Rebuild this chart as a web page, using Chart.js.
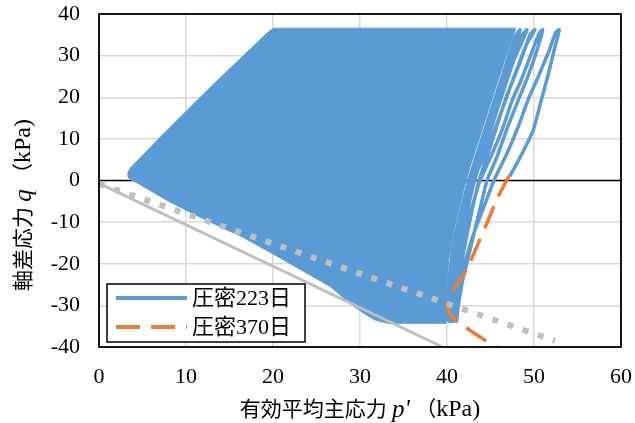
<!DOCTYPE html>
<html>
<head>
<meta charset="utf-8">
<script src="https://cdn.jsdelivr.net/npm/chart.js@4.4.1/dist/chart.umd.min.js"></script>
<style>
  html, body { margin: 0; padding: 0; background: #fff; }
</style>
</head>
<body>
<canvas id="chart" width="635" height="423"></canvas>
<script>
// axis ticks
const xTicks = [0, 10, 20, 30, 40, 50, 60];
const yTicks = [-40, -30, -20, -10, 0, 10, 20, 30, 40];

const seriesNames = ['圧密223日', '圧密370日'];

// 圧密223日 : last few cycles that stand apart on the right side
const blueP = [
  47.2, 48.0, 49.0, 49.9, 50.8, 51.7, 52.4, 52.9,
  52.5, 51.7, 50.5, 49.3, 48.2, 47.0, 45.4, 44.3, 43.2, 42.3, 41.6, 41.2, 41.1,
  41.3, 41.8, 42.5, 43.3, 44.0, 44.6, 45.8, 47.0, 48.2, 49.3, 50.3, 51.0,
  50.6, 49.6, 48.5, 47.5, 46.3, 45.1, 43.8, 42.8, 41.9, 41.2, 40.9, 40.8,
  41.0, 41.5, 42.2, 43.0, 43.7, 44.8, 46.7, 47.9, 49.1, 50.1,
  49.6, 48.5, 47.2, 45.9, 44.3, 43.0, 42.1, 41.3, 40.7, 40.5,
  40.7, 41.3, 42.0, 42.8, 43.6, 45.0, 46.4, 47.8, 49.2,
  48.6, 47.4, 46.0, 44.7, 43.3, 42.3, 41.4, 40.7, 40.3, 40.3,
  40.5, 41.1, 41.9, 42.8, 44.2, 45.6, 47.0, 48.4,
  47.8, 46.5, 45.1, 43.7, 42.5, 41.5, 40.7, 40.2, 40.1
];
const blueQ = [
  1.0, 4, 8, 12, 19, 26, 32, 36.2,
  35.6, 31, 25, 19.3, 13, 7, 0, -6, -12, -18, -24, -29, -33.8,
  -30, -24, -18, -11, -5, 0, 6, 13, 19.3, 25, 31, 36.2,
  35.4, 30, 24, 19.3, 12, 6, 0, -7, -14, -21, -27, -33.8,
  -29, -22, -14, -6, 0, 7, 19.3, 26, 32.5, 36.2,
  35.2, 29, 22, 14.5, 6, 0, -7, -15, -23, -33.8,
  -27, -19, -11, -3, 3, 12, 21, 29.5, 36.2,
  34.8, 28, 20, 12, 4, -3, -11, -19, -27, -33.9,
  -26, -17, -8, 0, 9, 18, 27, 36.2,
  34.5, 26, 17, 8, 0, -8, -16, -25, -33.9
];

// 圧密223日 : outline of the densely overlapped earlier cycles
const massP = [
  3.25, 3.6, 4.3, 6.8, 10, 13, 17.4, 19.4, 20.1, 47.9,
  46.8, 45.4, 44.0, 42.6, 41.8, 40.9, 40.2, 39.9, 39.9,
  33.2, 31.8, 30.5, 28.9, 26.6, 21, 16.5, 12.2, 8, 4.5, 3.6, 3.3
];
const massQ = [
  1.6, 3.0, 4.5, 9.9, 16.6, 22.8, 31.6, 35.6, 36.6, 36.6,
  30, 21, 12, 3, -3, -11, -19, -27, -34.3,
  -34.3, -33.6, -32, -29.6, -25.5, -18.8, -13.6, -9.4, -5.0, -0.7, 0.2, 0.9
];

// 圧密370日
const orangeP = [47.2, 46.6, 45.7, 44.6, 43.4, 42.4, 41.5, 40.7, 40.1, 40.2, 41.1, 42.5, 43.8, 45.3, 46.5];
const orangeQ = [1.3, -1, -4.7, -10.2, -16, -20.8, -23.9, -26.5, -29.5, -31.5, -33.7, -35.8, -37.6, -39.6, -41];

// reference lines
const solidP = [0, 39.5];
const solidQ = [-0.7, -40];
const dotP = [0, 52.4];
const dotQ = [-0.8, -38.5];

const toXY = (px, qy) => px.map((v, i) => ({ x: v, y: qy[i] }));

const BLUE = '#5B9BD5';
const ORANGE = '#ED7D31';
const GRAY = '#BFBFBF';
const FONT = '"Liberation Serif", "Noto Sans CJK JP", serif';

const zeroLine = {
  id: 'zeroLine',
  beforeDatasetsDraw(chart) {
    const { ctx, chartArea: a, scales: { y } } = chart;
    const yy = y.getPixelForValue(0);
    ctx.save();
    ctx.strokeStyle = '#000';
    ctx.lineWidth = 1.5;
    ctx.beginPath();
    ctx.moveTo(a.left, yy);
    ctx.lineTo(a.right, yy);
    ctx.stroke();
    ctx.restore();
  }
};

const frame = {
  id: 'frame',
  afterDatasetsDraw(chart) {
    const { ctx, chartArea: a } = chart;
    ctx.save();
    ctx.strokeStyle = '#000';
    ctx.lineWidth = 1.8;
    ctx.strokeRect(a.left, a.top, a.right - a.left, a.bottom - a.top);
    ctx.restore();
  }
};

// legend box in the lower left corner of the plot
const legendBox = {
  id: 'legendBox',
  afterDraw(chart) {
    const ctx = chart.ctx;
    ctx.save();
    ctx.fillStyle = '#fff';
    ctx.fillRect(107, 284, 198, 58);
    ctx.strokeStyle = '#000';
    ctx.lineWidth = 1.5;
    ctx.strokeRect(107, 284, 198, 58);
    const items = [
      { ds: chart.data.datasets[0], y: 298 },
      { ds: chart.data.datasets[1], y: 327 }
    ];
    items.forEach(it => {
      ctx.strokeStyle = it.ds.borderColor;
      ctx.lineWidth = 4;
      ctx.setLineDash(it.ds.borderDash || []);
      ctx.beginPath();
      ctx.moveTo(116, it.y);
      ctx.lineTo(187, it.y);
      ctx.stroke();
      ctx.setLineDash([]);
      ctx.fillStyle = '#000';
      ctx.font = '22px ' + FONT;
      ctx.textBaseline = 'middle';
      ctx.fillText(it.ds.label, 192, it.y + 1);
    });
    ctx.restore();
  }
};

function drawParts(ctx, parts, cx, cy) {
  let total = 0;
  parts.forEach(p => { ctx.font = p.f; total += ctx.measureText(p.t).width; });
  let x = cx - total / 2;
  parts.forEach(p => {
    ctx.font = p.f;
    ctx.fillText(p.t, x, cy);
    x += ctx.measureText(p.t).width;
  });
}

const axisTitles = {
  id: 'axisTitles',
  afterDraw(chart) {
    const ctx = chart.ctx;
    const n = '21px ' + FONT;
    const lat = '24px ' + FONT;
    const it = 'italic 25px ' + FONT;
    ctx.save();
    ctx.fillStyle = '#000';
    ctx.textBaseline = 'middle';
    drawParts(ctx, [
      { t: '有効平均主応力 ', f: n },
      { t: "p'", f: it },
      { t: ' （', f: n },
      { t: 'kPa)', f: lat }
    ], 360, 410);
    ctx.translate(24, 205);
    ctx.rotate(-Math.PI / 2);
    drawParts(ctx, [
      { t: '軸差応力 ', f: n },
      { t: 'q', f: it },
      { t: ' （', f: n },
      { t: 'kPa)', f: lat }
    ], 0, 0);
    ctx.restore();
  }
};

new Chart(document.getElementById('chart'), {
  type: 'scatter',
  data: {
    datasets: [
      {
        label: seriesNames[0],
        data: toXY(blueP, blueQ),
        showLine: true,
        borderColor: BLUE,
        borderWidth: 3.5,
        pointRadius: 0,
        tension: 0.2,
        order: 3
      },
      {
        label: seriesNames[1],
        data: toXY(orangeP, orangeQ),
        showLine: true,
        borderColor: ORANGE,
        borderWidth: 3.5,
        borderDash: [24, 11],
        pointRadius: 0,
        tension: 0.3,
        order: 2
      },
      {
        label: 'mass',
        data: toXY(massP, massQ),
        showLine: true,
        borderColor: BLUE,
        backgroundColor: BLUE,
        borderWidth: 1,
        fill: 'shape',
        pointRadius: 0,
        tension: 0,
        order: 4
      },
      {
        label: 'line1',
        data: toXY(solidP, solidQ),
        showLine: true,
        borderColor: GRAY,
        borderWidth: 3,
        pointRadius: 0,
        order: 1
      },
      {
        label: 'line2',
        data: toXY(dotP, dotQ),
        showLine: true,
        borderColor: GRAY,
        borderWidth: 6,
        borderDash: [6, 10],
        borderCapStyle: 'butt',
        pointRadius: 0,
        order: 0
      }
    ]
  },
  options: {
    responsive: false,
    animation: false,
    devicePixelRatio: 1,
    layout: { padding: { top: 14, right: 14, left: 0, bottom: 0 } },
    plugins: {
      legend: { display: false },
      tooltip: { enabled: false }
    },
    scales: {
      x: {
        type: 'linear',
        min: 0,
        max: 60,
        afterBuildTicks: s => { s.ticks = xTicks.map(v => ({ value: v })); },
        afterFit: s => { s.height = 76; s.paddingLeft = 0; s.paddingRight = 0; },
        grid: { color: '#d9d9d9', lineWidth: 1.5, drawTicks: false },
        border: { display: false },
        ticks: {
          autoSkip: false,
          maxRotation: 0,
          padding: 17,
          color: '#000',
          font: { family: FONT, size: 22 }
        }
      },
      y: {
        type: 'linear',
        min: -40,
        max: 40,
        afterBuildTicks: s => { s.ticks = yTicks.map(v => ({ value: v })); },
        afterFit: s => { s.width = 99; s.paddingTop = 0; s.paddingBottom = 0; },
        grid: { color: '#d9d9d9', lineWidth: 1.5, drawTicks: false },
        border: { display: false },
        ticks: {
          autoSkip: false,
          padding: 19,
          color: '#000',
          font: { family: FONT, size: 22 }
        }
      }
    }
  },
  plugins: [zeroLine, frame, legendBox, axisTitles]
});
</script>
</body>
</html>
